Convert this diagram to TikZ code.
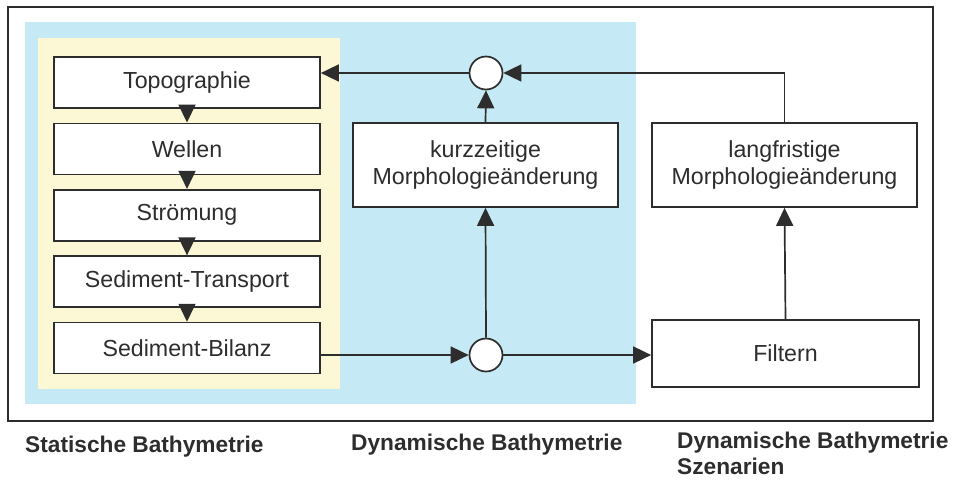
\documentclass[tikz,border=0pt]{standalone}
\usepackage{fontspec}
\setmainfont{Liberation Sans}
\usetikzlibrary{arrows.meta,calc}
\definecolor{ink}{RGB}{45,45,45}
\definecolor{bluebg}{RGB}{198,234,245}
\definecolor{yellowbg}{RGB}{252,248,214}
\tikzset{
  box/.style={draw=ink, line width=1.7pt, fill=white, rectangle, inner sep=0pt, align=center,
    font=\fontsize{23.2}{27}\selectfont, text=ink},
  sumc/.style={draw=ink, line width=1.7pt, fill=white, circle, inner sep=0pt, minimum size=33pt},
  conn/.style={draw=ink, line width=1.7pt, -{Triangle[length=18pt,width=17pt]}},
  lab/.style={font=\fontsize{22.7}{26}\selectfont\bfseries, text=ink, inner sep=0pt, align=left}
}
\begin{document}
\begin{tikzpicture}[x=1pt,y=-1pt]
\useasboundingbox (0,0) rectangle (954,480);
\fill[white] (0,0) rectangle (954,480);
% frame and backgrounds
\draw[ink, line width=1.7pt] (8,7) rectangle (933,421);
\fill[bluebg] (25,22) rectangle (636,404);
\fill[yellowbg] (38,38) rectangle (340,389);
% left column
\node[box, minimum width=266pt, minimum height=51pt] (topo) at (187,82.5) {Topographie};
\node[box, minimum width=266pt, minimum height=51pt] (well) at (187,148.9) {Wellen};
\node[box, minimum width=266pt, minimum height=51pt] (stro) at (187,215.3) {Strömung};
\node[box, minimum width=266pt, minimum height=51pt] (trans) at (187,281.7) {Sediment-Transport};
\node[box, minimum width=266pt, minimum height=51pt] (bil) at (187,348.1) {Sediment-Bilanz};
% middle
\node[sumc] (c1) at (486,73) {};
\node[sumc] (c2) at (486,355) {};
\node[box, minimum width=265pt, minimum height=84pt] (kurz) at (485.5,165) {kurzzeitige\\Morphologieänderung};
% right
\node[box, minimum width=265pt, minimum height=84pt] (lang) at (784.5,165) {langfristige\\Morphologieänderung};
\node[box, minimum width=267pt, minimum height=67pt] (filt) at (785.5,353.5) {Filtern};
% connectors
\draw[conn] (topo) -- (well);
\draw[conn] (well) -- (stro);
\draw[conn] (stro) -- (trans);
\draw[conn] (trans) -- (bil);
\draw[conn] (bil.east |- c2) -- (c2.west);
\draw[conn] (c2.north) -- (kurz.south);
\draw[conn] (kurz.north) -- (c1.south);
\draw[conn] (c1.west) -- (c1.west -| topo.east);
\draw[conn] (c2.east) -- (c2.east -| filt.west);
\draw[conn] (filt.north) -- (lang.south);
\draw[conn] (lang.north) |- (c1.east);
% labels
\node[lab, anchor=base west] (l1) at (25,452) {Statische Bathymetrie};
\node[lab, anchor=base west] (l2) at (351,450) {Dynamische Bathymetrie};
\node[lab, anchor=base west] (l3) at (677,474) {Dynamische Bathymetrie\\Szenarien};
\end{tikzpicture}
\end{document}
